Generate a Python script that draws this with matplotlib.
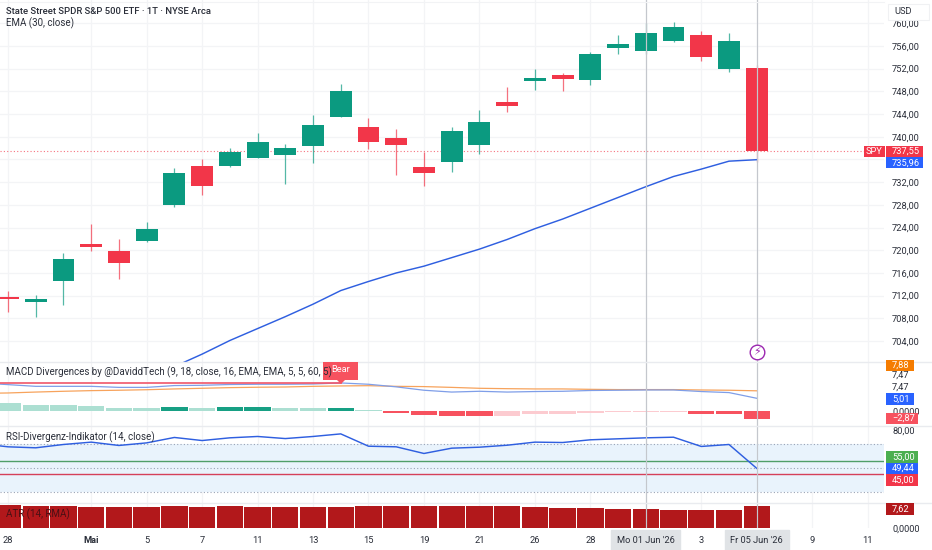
import numpy as np
import matplotlib
matplotlib.use("Agg")
import matplotlib.pyplot as plt
from matplotlib.patches import Rectangle, Polygon

plt.rcParams['font.family'] = ['Roboto', 'DejaVu Sans']

# SPY daily candles
opens = [711.7, 710.8, 714.5, 721.1, 719.9, 721.6, 727.9, 734.9, 734.8, 736.2, 736.7, 738.3, 743.4, 741.7,
         739.7, 734.6, 735.5, 738.5, 746.1, 749.8, 750.8, 750.0, 755.6, 755.2, 756.8, 757.9, 751.9, 752.2]
highs = [712.8, 712.1, 719.6, 724.7, 722.0, 724.9, 734.5, 736.0, 738.0, 740.7, 738.7, 743.8, 749.3, 743.3,
         741.3, 737.4, 741.8, 744.8, 748.7, 751.9, 751.2, 754.9, 758.0, 760.1, 760.2, 758.7, 758.2, 752.7]
lows = [709.2, 708.3, 710.4, 719.9, 715.0, 721.5, 727.7, 729.7, 734.6, 736.2, 731.7, 735.3, 743.4, 737.8,
        733.3, 731.4, 733.8, 736.9, 744.4, 748.3, 748.1, 749.2, 754.5, 754.5, 756.7, 753.4, 751.5, 735.5]
closes = [711.5, 711.4, 718.5, 720.5, 717.8, 723.7, 733.7, 731.4, 737.4, 739.1, 738.0, 742.1, 748.0, 739.0,
          738.5, 733.6, 741.0, 742.6, 745.4, 750.4, 750.2, 754.5, 756.3, 758.3, 759.4, 754.1, 756.9, 737.55]

# EMA only comes into view from bar 5 on
ema_days = np.arange(5, 28)
ema = [697.4, 699.5, 701.7, 704.1, 706.2, 708.3, 710.5, 712.9, 714.5, 716.0, 717.2, 718.7, 720.2, 721.9,
       723.8, 725.5, 727.4, 729.3, 731.2, 733.0, 734.3, 735.7, 735.96]

# indicator lines start one bar left of the first candle
line_days = np.arange(-1, 28)
macd = [10.9, 10.26, 9.6, 9.6, 9.6, 9.2, 9.2, 9.9, 10.0, 10.3, 10.4, 10.4, 10.5, 10.9, 10.4, 9.4, 8.1, 7.4,
        7.7, 7.4, 7.6, 7.7, 8.0, 8.1, 8.2, 8.2, 7.6, 7.2, 5.01]
signal = [6.9, 7.05, 7.4, 7.7, 7.95, 8.1, 8.3, 8.6, 8.85, 9.1, 9.25, 9.35, 9.6, 9.75, 9.85, 9.6, 9.5, 9.2,
          8.85, 8.7, 8.6, 8.6, 8.45, 8.35, 8.35, 8.35, 8.2, 8.1, 7.88]
hist = [3.2, 2.4, 2.3, 2.05, 1.15, 1.15, 1.7, 1.4, 1.7, 1.7, 1.4, 1.4, 1.4, 0.64, -0.6, -1.5, -1.7, -1.7,
        -1.7, -1.1, -1.1, -0.6, -0.3, -0.2, -0.2, -1.0, -1.2, -2.87]
hist_dark = [0, 0, 0, 0, 0, 0, 1, 0, 1, 1, 0, 0, 1, 0, 1, 1, 1, 1, 0, 0, 0, 0, 0, 0, 0, 1, 1, 1]
bear_line = [11.0, 11.0]
bear_days = [-1, 12]

rsi = [69.5, 66.9, 66.1, 68.8, 70.7, 68.0, 70.1, 74.5, 72.0, 74.2, 75.3, 73.6, 75.3, 77.4, 67.4, 66.9, 61.5,
       65.8, 66.6, 68.2, 70.7, 70.4, 72.6, 73.4, 74.2, 74.7, 67.2, 68.8, 49.44]

atr = [8.07, 7.6, 7.73, 7.5, 7.5, 7.5, 7.84, 7.5, 7.6, 7.38, 7.38, 7.38, 7.38, 7.6, 7.6, 7.6, 7.6, 7.6, 7.6,
       7.27, 7.04, 7.04, 6.8, 6.57, 6.34, 6.34, 6.34, 7.62]

tick_days = [0, 3, 5, 7, 9, 11, 13, 15, 17, 19, 21, 23, 25, 27, 29, 31]
tick_names = ['28', 'Mai', '5', '7', '11', '13', '15', '19', '21', '26', '28', "Mo 01 Jun '26", '3',
              "Fr 05 Jun '26", '9', '11']
price_ticks = list(range(704, 761, 4))

GREEN = '#0b9a80'
RED = '#f23649'
BLUE = '#2f5fe0'
GRID = '#f3f4f6'
TEXT = '#2a2e39'
FS = 6.7
LEG = 7.0

W, H = 932, 550
fig = plt.figure(figsize=(W / 100, H / 100), dpi=100, facecolor='white')


# axes placed by pixel rows, all share the same bar scale
def pane(top, bottom, ylim):
    ax = fig.add_axes([0, 1 - bottom / H, 884 / W, (bottom - top) / H])
    ax.set_xlim(-8 / 27.73, 876 / 27.73)
    ax.set_ylim(*ylim)
    ax.set_xticks(tick_days)
    ax.tick_params(length=0, labelbottom=False, labelleft=False, labelright=True, right=False, left=False,
                   labelsize=FS, labelcolor=TEXT, pad=5.8)
    ax.yaxis.tick_right()
    ax.tick_params(axis='y', length=0)
    ax.grid(True, axis='x', color=GRID, lw=0.9)
    ax.set_axisbelow(True)
    for s in ax.spines.values():
        s.set_visible(False)
    ax.patch.set_alpha(0)
    return ax


def price_str(v):
    return f'{v:.2f}'.replace('.', ',')


# main price pane, the 736 label sits under the value tags
ax = pane(0, 361.5, (700.4, 764.1))
ax.set_yticks(price_ticks)
ax.set_yticklabels(['' if p == 736 else price_str(p) for p in price_ticks])
ax.grid(True, axis='y', color=GRID, lw=0.9)
ax.axhline(closes[-1], xmax=864 / 884, color=RED, lw=0.8, ls=(0, (1, 2)), alpha=0.7, zorder=1)
days = np.arange(len(closes))
colors = [GREEN if c >= o else RED for o, c in zip(opens, closes)]
ax.vlines(days, lows, highs, colors=colors, lw=0.9, alpha=0.7, zorder=3)
ax.bar(days, np.array(closes) - np.array(opens), bottom=opens, width=0.79, color=colors, zorder=4)
ax.plot(ema_days, ema, color=BLUE, lw=1.05, zorder=5)

# MACD pane
ax2 = pane(361.5, 426, (-5.65, 19.15))
ax2.set_yticks([0])
ax2.set_yticklabels(['0,0000'])
hist_colors = []
for h, d in zip(hist, hist_dark):
    if h >= 0:
        hist_colors.append('#17a084' if d else '#acdfd2')
    else:
        hist_colors.append('#f7525f' if d else '#fccbd0')
ax2.bar(days, hist, width=0.95, color=hist_colors, zorder=3)
ax2.plot(line_days, signal, color='#f7a35c', lw=0.9, zorder=4)
ax2.plot(line_days, macd, color='#7f9ee8', lw=0.9, zorder=5)
ax2.plot(bear_days, bear_line, color='#f0566a', lw=1.2, zorder=6)

# RSI pane
ax3 = pane(426, 503, (21.3, 83.8))
ax3.set_yticks([80])
ax3.set_yticklabels(['80,00'])
ax3.axhspan(30, 69, color='#e9f3fc', lw=0, zorder=1)
for lvl in [69, 50, 30]:
    ax3.axhline(lvl, color='#9aa3b5', lw=0.8, ls=(0, (1, 2)), zorder=2)
ax3.axhline(55, color='#4f9e68', lw=1.0, zorder=3)
ax3.axhline(45, color='#d5405a', lw=1.0, zorder=3)
ax3.plot(line_days, rsi, color=BLUE, lw=1.05, zorder=5)

# ATR pane with the date axis under it
ax4 = pane(503, 528.3, (0, 8.75))
ax4.set_yticks([0])
ax4.set_yticklabels(['0,0000'])
ax4.bar(days, atr, width=0.95, color='#b2181b', zorder=3)
ax4.tick_params(axis='x', labelbottom=True, pad=5.5)
ax4.set_xticklabels(tick_names)
for lab in ax4.get_xticklabels():
    if lab.get_text() == 'Mai':
        lab.set_fontweight('bold')
    if 'Jun' in lab.get_text():
        lab.set_bbox(dict(fc='#e0e3e6', ec='#e0e3e6', boxstyle='square,pad=0.62'))

# the two marked days run through all panes
for a in [ax, ax2, ax3, ax4]:
    a.axvline(23, color='#c4c7cd', lw=0.85, zorder=7)
    a.axvline(27, color='#c4c7cd', lw=0.85, zorder=7)
ax.plot([27], [702.1], 'o', ms=10.5, mfc='white', mec='#9c27b0', mew=1.0, zorder=8)
ax.text(27, 702.1, '\u26a1', color='#9c27b0', fontsize=8, ha='center', va='center', zorder=9,
        family='DejaVu Sans')

# overlay in pixels for legends, separators and the value tags
ov = fig.add_axes([0, 0, 1, 1], zorder=10)
ov.set_xlim(0, W)
ov.set_ylim(H, 0)
ov.axis('off')
for y in [361.5, 426, 503]:
    ov.plot([0, W], [y, y], color='#e9ebef', lw=1.0)
ov.plot([0, 884], [1.5, 1.5], color='#f2f3f5', lw=0.8)

ov.text(6, 11, 'State Street SPDR S&P 500 ETF · 1T · NYSE Arca', fontsize=6.8, color=TEXT, va='center',
        fontweight='medium')
ov.text(6, 23, 'EMA (30, close)', fontsize=LEG, color=TEXT, va='center')
ov.text(6, 372.7, 'MACD Divergences by @DaviddTech (9, 18, close, 16, EMA, EMA, 5, 5, 60, 5)', fontsize=LEG,
        color=TEXT, va='center', zorder=7)
ov.text(6, 437.7, 'RSI-Divergenz-Indikator (14, close)', fontsize=LEG, color=TEXT, va='center')
ov.text(6, 514, 'ATR (14, RMA)', fontsize=LEG, color='#4a1014', va='center')

# Bear label
ov.add_patch(Rectangle((323, 361.7), 35, 18.3, fc='#f7525f', ec='none', zorder=3))
ov.add_patch(Polygon([[337, 380], [345, 380], [341, 384]], fc='#f7525f', ec='none', zorder=3))
ov.text(340.5, 369.7, 'Bear', color='white', fontsize=FS, ha='center', va='center', zorder=4)


def tag(y, label, color, x0=885.5, x1=923):
    ov.add_patch(Rectangle((x0, y - 5.6), x1 - x0, 11.2, fc=color, ec='none', zorder=5))
    ov.text(892, y, label, color='white', fontsize=FS, ha='left', va='center', zorder=6)


ov.add_patch(Rectangle((863.7, 145.9), 21, 11.2, fc=RED, ec='none', zorder=5))
ov.text(874.2, 151.5, 'SPY', color='white', fontsize=FS, ha='center', va='center', zorder=6)
tag(151.5, price_str(closes[-1]), RED)
tag(162.7, price_str(ema[-1]), '#2962ff')
tag(365.5, price_str(7.88), '#f57c00', 885.5, 913.7)
ov.text(892, 375.5, '7,47', fontsize=FS, color=TEXT, va='center')
ov.text(892, 386.7, '7,47', fontsize=FS, color=TEXT, va='center')
tag(399, price_str(macd[-1]), '#2962ff', 885.5, 913.7)
tag(418.5, '\u22122,87', '#f7525f', 885.5, 918)
tag(457, '55,00', '#4caf50', 885.5, 918)
tag(468.5, price_str(rsi[-1]), '#2962ff', 885.5, 918)
tag(480, '45,00', RED, 885.5, 918)
tag(509, price_str(atr[-1]), '#b2181b', 885.5, 913.7)

# USD box sits over the top price label
ov.add_patch(Rectangle((888, 4), 41, 16, fc='white', ec='#f0f1f3', lw=0.8, zorder=5))
ov.text(903, 12, 'USD', fontsize=FS, color=TEXT, ha='center', va='center', zorder=6)

fig.savefig('out.png', dpi=100)
